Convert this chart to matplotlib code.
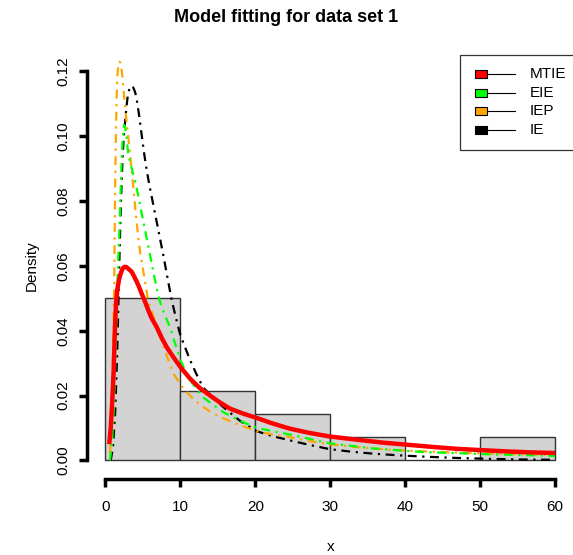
import matplotlib
matplotlib.use("Agg")
import matplotlib.pyplot as plt
import numpy as np
from matplotlib.patches import Rectangle
from matplotlib.lines import Line2D

plt.rcParams['font.family'] = ['Liberation Sans', 'DejaVu Sans']

# histogram of data set 1 (n = 14)
bin_edges = [0, 10, 20, 30, 40, 50, 60]
bin_counts = [7, 3, 2, 1, 0, 1]

# fitted densities
mtie_x = [0.5, 0.7, 0.9, 1.1, 1.25, 1.42, 1.6, 1.8, 1.96, 2.15, 2.3, 2.45, 2.62, 2.8, 3.0,
          3.25, 3.51, 3.9, 4.39, 4.8, 5.29, 5.8, 6.2, 6.84, 7.5, 8.2, 9.05, 10.0, 11.3,
          12.5, 13.9, 15.2, 16.6, 18.3, 20.2, 22.3, 24.6, 27.2, 29.9, 33.9, 37.0, 40.0,
          43.5, 46.8, 50.0, 53.4, 56.7, 60.0]
mtie_y = [0.005, 0.010, 0.018, 0.028, 0.040, 0.0489, 0.053, 0.0556, 0.0571, 0.0584, 0.0592,
          0.0596, 0.0597, 0.0596, 0.0592, 0.0587, 0.0581, 0.0564, 0.054, 0.0516, 0.0489,
          0.0458, 0.0437, 0.0411, 0.0378, 0.0348, 0.0319, 0.0288, 0.0252, 0.0225, 0.0201,
          0.0180, 0.0160, 0.0145, 0.0131, 0.0114, 0.0098, 0.0085, 0.0074, 0.0063, 0.0055,
          0.0049, 0.0042, 0.0036, 0.0032, 0.0028, 0.0025, 0.0023]

eie_x = [0.6, 0.9, 1.15, 1.35, 1.52, 1.62, 1.73, 1.85, 1.96, 2.08, 2.18, 2.3, 2.4, 2.49,
         2.6, 2.75, 2.9, 3.06, 3.4, 3.73, 4.18, 4.6, 5.06, 5.5, 5.95, 6.4, 6.84, 7.28, 7.8,
         8.6, 9.3, 10.0, 11.3, 13.0, 15.7, 18.0, 20.2, 24.6, 29.9, 35.7, 42.3, 51.2, 60.0]
eie_y = [0.0, 0.006, 0.018, 0.033, 0.0489, 0.056, 0.0633, 0.071, 0.0787, 0.087, 0.0941,
         0.099, 0.1020, 0.1034, 0.1030, 0.1010, 0.0975, 0.0941, 0.0910, 0.0880, 0.0839,
         0.0790, 0.0736, 0.0685, 0.0633, 0.0580, 0.0530, 0.0489, 0.0455, 0.0411, 0.0360,
         0.0309, 0.0247, 0.0195, 0.0149, 0.0122, 0.0100, 0.0080, 0.0053, 0.0037, 0.0026,
         0.0019, 0.0014]

iep_x = [0.6, 0.8, 0.95, 1.05, 1.16, 1.22, 1.29, 1.35, 1.42, 1.52, 1.6, 1.7, 1.78, 1.88,
         1.98, 2.1, 2.25, 2.4, 2.7, 3.06, 3.4, 3.73, 4.05, 4.39, 4.7, 5.06, 5.4, 5.73, 6.4,
         7.28, 8.2, 9.05, 10.4, 11.5, 12.6, 14.0, 15.7, 17.8, 20.2, 22.3, 24.6, 27.2, 29.9,
         34.0, 38.0, 42.5, 47.0, 53.0, 60.0]
iep_y = [0.002, 0.012, 0.027, 0.040, 0.053, 0.068, 0.0839, 0.094, 0.104, 0.1147, 0.119,
         0.1215, 0.1226, 0.1229, 0.1226, 0.1215, 0.1185, 0.1147, 0.107, 0.0993, 0.0915,
         0.0839, 0.0760, 0.0684, 0.063, 0.0581, 0.0535, 0.0489, 0.0445, 0.0385, 0.0322,
         0.0268, 0.0221, 0.0195, 0.0172, 0.0150, 0.0130, 0.0110, 0.0090, 0.0080, 0.0072,
         0.0060, 0.0050, 0.0040, 0.0033, 0.0028, 0.0024, 0.0020, 0.0017]

ie_x = [0.7, 1.0, 1.3, 1.55, 1.73, 1.87, 2.05, 2.18, 2.3, 2.45, 2.62, 2.78, 2.93, 3.1, 3.3,
        3.5, 3.7, 3.95, 4.18, 4.5, 4.85, 5.15, 5.51, 5.95, 6.39, 6.84, 7.28, 7.7, 8.18, 8.84,
        9.4, 9.95, 10.6, 11.3, 12.1, 13.0, 14.3, 15.7, 17.9, 20.2, 22.3, 24.6, 27.2, 29.9,
        32.8, 35.7, 39.0, 42.3, 46.5, 51.2, 55.5, 60.0]
ie_y = [0.0, 0.004, 0.015, 0.032, 0.0489, 0.0633, 0.0787, 0.087, 0.0941, 0.100, 0.1044,
        0.1085, 0.1116, 0.1138, 0.1151, 0.1155, 0.1150, 0.1136, 0.1112, 0.1062, 0.1000,
        0.0948, 0.0893, 0.0838, 0.0787, 0.0735, 0.0684, 0.0635, 0.0575, 0.0494, 0.0440,
        0.039, 0.0350, 0.0309, 0.0268, 0.0226, 0.0195, 0.0165, 0.0123, 0.0090, 0.0075,
        0.0062, 0.0048, 0.0035, 0.0027, 0.0021, 0.0016, 0.0012, 0.0008, 0.0005, 0.0003,
        0.0002]

model_names = ["MTIE", "EIE", "IEP", "IE"]
model_colors = ["#FF0000", "#00FF00", "#FFA500", "#000000"]

fig = plt.figure(figsize=(5.73, 5.55), dpi=100)
ax = fig.add_axes([0.1527, 0.1423, 0.8473, 0.7575])

# histogram as density
n = sum(bin_counts)
widths = np.diff(bin_edges)
dens = np.array(bin_counts) / (n * widths)
ax.bar(bin_edges[:-1], dens, width=widths, align='edge', color='#D3D3D3',
       edgecolor='#333333', linewidth=1.0, zorder=1)

dd = (0, (4, 2.5, 1, 2.5))
ax.plot(ie_x, ie_y, color=model_colors[3], lw=1.6, ls=dd, zorder=2)
ax.plot(iep_x, iep_y, color=model_colors[2], lw=1.6, ls=dd, zorder=3)
ax.plot(eie_x, eie_y, color=model_colors[1], lw=1.6, ls=dd, zorder=4)
ax.plot(mtie_x, mtie_y, color=model_colors[0], lw=3.2, ls='-', zorder=5,
        solid_capstyle='butt', solid_joinstyle='round')

ax.set_xlim(-2.4, 62.4)
ax.set_ylim(-0.0048, 0.1248)

for s in ['top', 'right']:
    ax.spines[s].set_visible(False)
ax.spines['left'].set_bounds(0, 0.12)
ax.spines['bottom'].set_bounds(0, 60)
ax.spines['left'].set_linewidth(2.5)
ax.spines['bottom'].set_linewidth(2.5)
ax.spines['bottom'].set_position(('outward', 2))

ax.set_xticks(np.arange(0, 61, 10))
ax.set_yticks(np.arange(0, 0.121, 0.02))
ax.set_yticklabels([f"{v:.2f}" for v in np.arange(0, 0.121, 0.02)], rotation=90, va='center')
ax.tick_params(axis='both', length=6, width=2.5, labelsize=11)
ax.tick_params(axis='x', pad=9)
ax.tick_params(axis='y', pad=6)

ax.set_xlabel("x", fontsize=11, labelpad=19)
ax.set_ylabel("Density", fontsize=11, labelpad=13)
fig.text(0.5, 1 - 18 / 555, "Model fitting for data set 1", ha='center', va='center',
         fontsize=13, fontweight='bold')

# legend box, drawn the way R draws legend(fill=, lty=)
W, H = 573.0, 555.0
fig.patches.append(Rectangle((460 / W, 1 - 150 / H), 120 / W, 95 / H, transform=fig.transFigure,
                             facecolor='white', edgecolor='#333333', lw=0.9, zorder=10))
for i, (name, col) in enumerate(zip(model_names, model_colors)):
    yc = 1 - (74 + i * 18.7) / H
    fig.patches.append(Rectangle((475 / W, yc - 4 / H), 12 / W, 8 / H, transform=fig.transFigure,
                                 facecolor=col, edgecolor='black', lw=0.8, zorder=11))
    fig.lines.append(Line2D([487 / W, 515 / W], [yc, yc], transform=fig.transFigure,
                            color='black', lw=0.8, zorder=11))
    fig.text(530 / W, yc, name, ha='left', va='center', fontsize=11, zorder=12)

fig.savefig("out.png", dpi=100)
